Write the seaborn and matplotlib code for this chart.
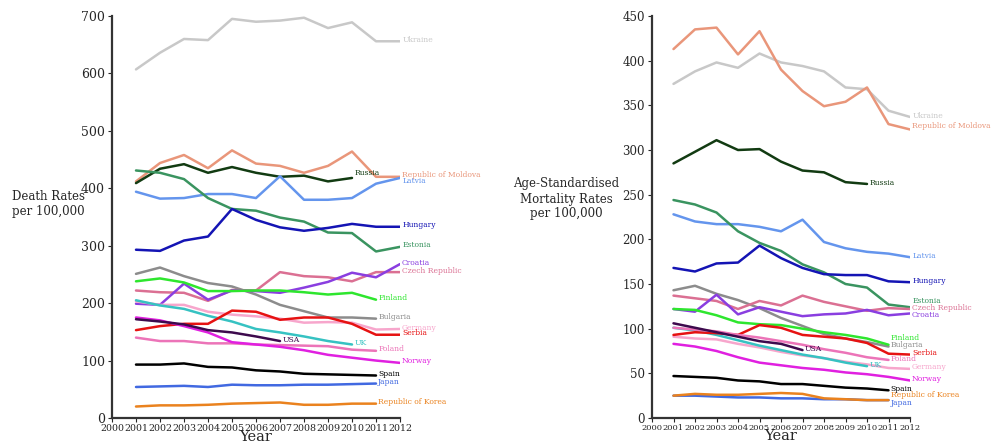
import matplotlib
matplotlib.use("Agg")
import matplotlib.pyplot as plt
import pandas as pd
import seaborn as sns

sns.set_style("ticks")
plt.rcParams["font.family"] = ["DejaVu Serif"]

# crude death rates per 100,000 (first value is 2001)
crude = {
    "Ukraine": [607, 636, 660, 658, 695, 690, 692, 697, 679, 689, 656, 656],
    "Republic of Moldova": [412, 444, 458, 435, 466, 443, 439, 427, 439, 464, 420, 420],
    "Russia": [409, 434, 442, 427, 437, 427, 420, 422, 412, 418],
    "Latvia": [394, 382, 383, 390, 390, 383, 421, 380, 380, 383, 408, 418],
    "Estonia": [431, 427, 416, 383, 364, 361, 349, 342, 323, 322, 290, 298],
    "Hungary": [293, 291, 309, 316, 364, 345, 332, 326, 331, 338, 333, 333],
    "Bulgaria": [251, 262, 247, 235, 229, 215, 197, 186, 175, 175, 173],
    "Czech Republic": [222, 219, 218, 204, 223, 222, 254, 247, 245, 238, 254, 254],
    "Croatia": [199, 197, 234, 206, 222, 221, 218, 227, 237, 253, 245, 268],
    "Finland": [238, 243, 236, 221, 221, 222, 222, 219, 215, 218, 206],
    "Germany": [203, 197, 197, 185, 180, 177, 173, 166, 167, 166, 154, 155],
    "UK": [205, 196, 190, 178, 168, 155, 149, 142, 134, 128],
    "Serbia": [153, 160, 164, 164, 187, 185, 171, 175, 175, 164, 145, 145],
    "Poland": [140, 134, 134, 130, 130, 128, 127, 126, 125, 119, 117],
    "Norway": [175, 170, 160, 149, 132, 128, 124, 118, 110, 105, 100, 96],
    "USA": [172, 168, 163, 153, 149, 142, 134],
    "Spain": [93, 93, 95, 89, 88, 83, 81, 77, 76, 75, 74],
    "Japan": [54, 55, 56, 54, 58, 57, 57, 58, 58, 59, 60],
    "Republic of Korea": [20, 22, 22, 23, 25, 26, 27, 23, 23, 25, 25],
}

# age-standardised mortality rates per 100,000 (first value is 2001)
standardised = {
    "Ukraine": [374, 388, 398, 392, 408, 398, 394, 388, 370, 368, 344, 337],
    "Republic of Moldova": [413, 435, 437, 407, 433, 390, 366, 349, 354, 370, 329, 323],
    "Russia": [285, 298, 311, 300, 301, 287, 277, 275, 264, 262],
    "Latvia": [228, 220, 217, 217, 214, 209, 222, 197, 190, 186, 184, 180],
    "Estonia": [244, 239, 230, 209, 196, 187, 172, 163, 150, 146, 127, 124],
    "Hungary": [168, 164, 173, 174, 193, 179, 168, 161, 160, 160, 153, 152],
    "Bulgaria": [143, 148, 139, 132, 123, 112, 103, 94, 89, 85, 80],
    "Czech Republic": [137, 134, 131, 122, 131, 126, 137, 130, 125, 120, 123, 122],
    "Croatia": [122, 119, 138, 116, 124, 119, 114, 116, 117, 121, 115, 117],
    "Finland": [122, 121, 115, 107, 105, 104, 100, 96, 93, 89, 82],
    "Germany": [91, 89, 88, 83, 79, 74, 70, 67, 63, 60, 56, 55],
    "UK": [101, 98, 93, 87, 81, 76, 71, 67, 62, 58],
    "Serbia": [93, 96, 95, 93, 104, 101, 93, 91, 89, 84, 72, 71],
    "Poland": [101, 99, 97, 93, 90, 86, 82, 77, 73, 68, 65],
    "Norway": [83, 80, 75, 68, 62, 59, 56, 54, 51, 49, 46, 42],
    "USA": [106, 101, 96, 91, 86, 83, 76],
    "Spain": [47, 46, 45, 42, 41, 38, 38, 36, 34, 33, 31],
    "Japan": [25, 25, 24, 23, 23, 22, 22, 21, 21, 20, 20],
    "Republic of Korea": [25, 27, 26, 26, 27, 28, 27, 22, 21, 20, 20],
}

palette = {
    "Ukraine": "#c8c8c8",
    "Republic of Moldova": "#e9967a",
    "Russia": "#123b12",
    "Latvia": "#6495ed",
    "Estonia": "#3a9460",
    "Hungary": "#1414b4",
    "Bulgaria": "#8c8c8c",
    "Czech Republic": "#db7093",
    "Croatia": "#8a3ee0",
    "Finland": "#2ee62e",
    "Germany": "#f7a6cc",
    "UK": "#36c2c2",
    "Serbia": "#e61212",
    "Poland": "#ec74b8",
    "Norway": "#e020e0",
    "USA": "#3d0a4d",
    "Spain": "#000000",
    "Japan": "#4169e1",
    "Republic of Korea": "#ea821e",
}

# vertical nudges (points) for end labels that would collide
nudge_left = {"Latvia": -3, "Russia": 2.5, "Poland": 0}
nudge_right = {"Estonia": 3.5, "Croatia": -2, "Finland": 3.5,
               "Republic of Korea": 3, "Japan": -3, "Republic of Moldova": 1.5}


def to_long(table):
    rows = []
    for country, vals in table.items():
        for i, v in enumerate(vals):
            rows.append({"Country": country, "Year": 2001 + i, "Rate": v})
    return pd.DataFrame(rows)


def draw(ax, table, ymax, nudges, xfs, yfs):
    df = to_long(table)
    sns.lineplot(data=df, x="Year", y="Rate", hue="Country",
                 hue_order=list(table.keys()), palette=palette,
                 linewidth=1.8, legend=False, ax=ax)
    for country, vals in table.items():
        last = 2001 + len(vals) - 1
        ax.annotate(country, (last, vals[-1]), xytext=(1.5, 1 + nudges.get(country, 0)),
                    textcoords="offset points", ha="left", va="center",
                    fontsize=5.5, color=palette[country], annotation_clip=False)
    ax.set_xlim(2000, 2012)
    ax.set_ylim(0, ymax)
    ax.set_xticks(range(2000, 2013))
    ax.tick_params(axis="x", labelsize=xfs, length=3, pad=1)
    ax.tick_params(axis="y", labelsize=yfs, length=3, pad=2)
    ax.set_xlabel("Year", fontsize=10.5, labelpad=-1.5)
    ax.set_ylabel("")
    for s in ["left", "bottom"]:
        ax.spines[s].set_linewidth(1.6)
        ax.spines[s].set_color("#333333")
    sns.despine(ax=ax)


fig = plt.figure(figsize=(9.94, 4.45), dpi=100)
ax1 = fig.add_axes([112 / 994, 27 / 445, 288 / 994, 402 / 445])
ax2 = fig.add_axes([652 / 994, 27 / 445, 258 / 994, 402 / 445])

draw(ax1, crude, 700, nudge_left, 6.8, 9)
draw(ax2, standardised, 450, nudge_right, 6, 8.5)

fig.text(12 / 994, 1 - 204 / 445, "Death Rates\nper 100,000",
         ha="left", va="center", fontsize=8.5)
fig.text(566 / 994, 1 - 199 / 445, "Age-Standardised\nMortality Rates\nper 100,000",
         ha="center", va="center", multialignment="center", fontsize=8.5)

fig.savefig("out.png", dpi=100)
